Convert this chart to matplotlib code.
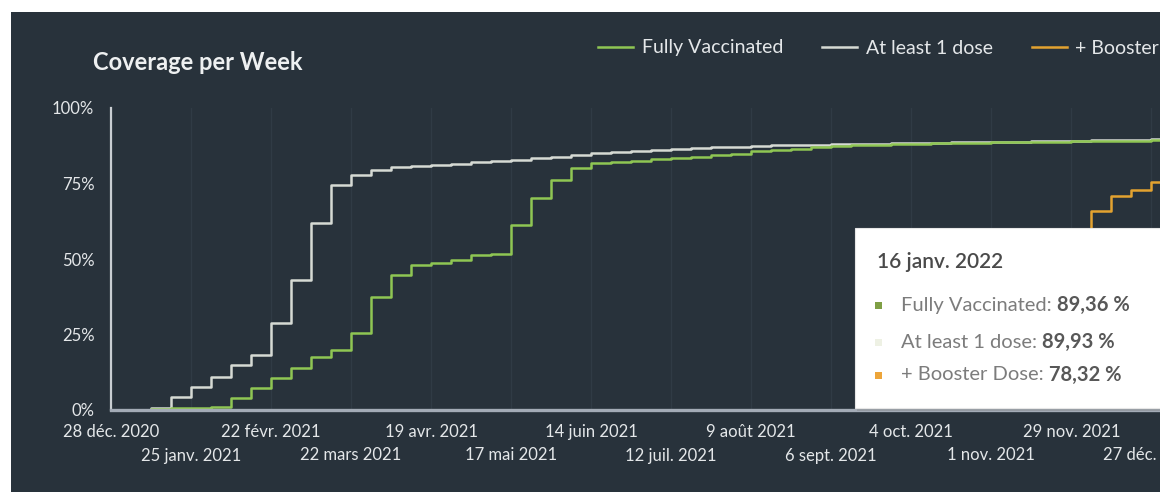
import matplotlib
matplotlib.use("Agg")
import matplotlib.pyplot as plt
from matplotlib.patches import Rectangle
from matplotlib.lines import Line2D
from matplotlib.text import Annotation
import numpy as np
import datetime as dt

# ---------------- data ----------------
start = dt.date(2020, 12, 28)
weeks = [start + dt.timedelta(days=7 * i) for i in range(54)]

at_least_one = [0, 0, 0.8, 4.3, 7.6, 10.9, 14.9, 18.2, 28.8, 43.0,
                62.0, 74.5, 77.8, 79.5, 80.3, 80.8, 81.2, 81.6, 82.0, 82.4,
                82.8, 83.3, 83.8, 84.4, 85.0, 85.4, 85.8, 86.1, 86.4, 86.7,
                87.0, 87.2, 87.4, 87.6, 87.7, 87.9, 88.0, 88.1, 88.2, 88.3,
                88.4, 88.5, 88.6, 88.7, 88.8, 88.9, 89.0, 89.1, 89.2, 89.3,
                89.4, 89.5, 89.6, 89.93]

fully = [0, 0, 0.3, 0.5, 0.6, 1.0, 4.0, 7.3, 10.6, 14.0,
         17.5, 19.8, 25.5, 37.4, 44.7, 47.9, 48.6, 49.7, 51.2, 51.7,
         61.3, 70.2, 76.2, 80.1, 81.8, 82.2, 82.6, 83.0, 83.4, 83.9,
         84.4, 84.9, 85.6, 86.1, 86.5, 87.0, 87.3, 87.6, 87.8, 88.0,
         88.2, 88.3, 88.4, 88.5, 88.6, 88.7, 88.8, 88.9, 89.0, 89.1,
         89.15, 89.2, 89.3, 89.36]

booster = [np.nan] * 38 + [2.5, 4.0, 6.0, 9.0, 13.0, 18.0, 24.0,
                           32.0, 41.0, 50.0, 58.0, 66.0, 71.0, 73.0, 75.5, 78.32]

tick_dates = [start + dt.timedelta(days=28 * i) for i in range(14)]
tick_labels = ["28 déc. 2020", "25 janv. 2021", "22 févr. 2021", "22 mars 2021",
               "19 avr. 2021", "17 mai 2021", "14 juin 2021", "12 juil. 2021",
               "9 août 2021", "6 sept. 2021", "4 oct. 2021", "1 nov. 2021",
               "29 nov. 2021", "27 déc. 2021"]
y_ticks = [0, 25, 50, 75, 100]
y_labels = ["0%", "25%", "50%", "75%", "100%"]

series_names = ["Fully Vaccinated", "At least 1 dose", "+ Booster Dose"]
series_colors = ["#8fc653", "#d6dad4", "#e3a230"]

tooltip_date = "16 janv. 2022"
tooltip_values = ["89,36 %", "89,93 %", "78,32 %"]
tooltip_colors = ["#7f9f45", "#eef1e4", "#eda53a"]

# ---------------- figure ----------------
W, H = 1160, 492
BG = "#28323b"
plt.rcParams['font.family'] = ['Lato', 'DejaVu Sans']

fig = plt.figure(figsize=(W / 100, H / 100), dpi=100, facecolor="white")

def fx(px):
    return px / W

def fy(py):
    return 1 - py / H

fig.patches.append(Rectangle((fx(11), 0), 1 - fx(11), fy(12), transform=fig.transFigure,
                             facecolor=BG, edgecolor="none", zorder=-10))

ax = fig.add_axes([fx(111), fy(410), 1 - fx(111), fy(108) - fy(410)])
ax.set_facecolor("none")

x_end = start + dt.timedelta(days=367)
ax.set_xlim(start, x_end)
ax.set_ylim(0, 100)

for d in tick_dates:
    ax.axvline(d, color="#303b45", lw=1.0, zorder=0)

ax.step(weeks, booster, where="post", color=series_colors[2], lw=1.8, zorder=2)
ax.step(weeks, at_least_one, where="post", color=series_colors[1], lw=1.8, zorder=3)
ax.step(weeks, fully, where="post", color=series_colors[0], lw=1.8, zorder=4)

for s in ["top", "right"]:
    ax.spines[s].set_visible(False)
ax.spines["left"].set_color("#c9ced2")
ax.spines["left"].set_linewidth(1.6)
ax.spines["bottom"].set_color("#a3abb6")
ax.spines["bottom"].set_linewidth(2.4)
ax.spines["bottom"].set_zorder(5)

ax.set_yticks(y_ticks)
ax.set_yticklabels(y_labels)
ax.set_xticks(tick_dates[0::2])
ax.set_xticklabels(tick_labels[0::2])
ax.set_xticks(tick_dates[1::2], minor=True)
ax.set_xticklabels(tick_labels[1::2], minor=True)
ax.tick_params(axis="both", which="both", length=0, colors="#e4e7e9", labelsize=12)
ax.tick_params(axis="y", pad=12)
ax.tick_params(axis="x", which="major", pad=10)
ax.tick_params(axis="x", which="minor", pad=27)

# title
fig.text(fx(93), fy(62), "Coverage per Week", color="#eef0f1", fontsize=17,
         fontweight="bold", va="center", ha="left")

# legend
handles = [Line2D([], [], color=c, lw=1.8) for c in series_colors]
leg = fig.legend(handles, series_names, loc="center left",
                 bbox_to_anchor=(fx(598), fy(48)), ncol=3, frameon=False,
                 fontsize=14, labelcolor="#e4e7e9", handlelength=1.8,
                 handletextpad=0.45, columnspacing=2.0, borderaxespad=0, borderpad=0)

# tooltip
bx0, by0, bx1, by1 = 855, 228, 1162, 408
fig.patches.append(Rectangle((fx(bx0 + 2), fy(by1 + 3)), fx(bx1 - bx0), fy(by0) - fy(by1),
                             transform=fig.transFigure, facecolor="#8a9096",
                             edgecolor="none", alpha=0.6, zorder=5))
fig.patches.append(Rectangle((fx(bx0), fy(by1)), fx(bx1 - bx0), fy(by0) - fy(by1),
                             transform=fig.transFigure, facecolor="white",
                             edgecolor="#e6e6e6", lw=0.8, zorder=6))
fig.text(fx(877), fy(262), tooltip_date, color="#4a4a4a", fontsize=15,
         fontweight="semibold", va="center", ha="left", zorder=7)
row_y = [305, 342, 375]
for name, val, col, yy in zip(series_names, tooltip_values, tooltip_colors, row_y):
    fig.patches.append(Rectangle((fx(875), fy(yy + 3.5)), fx(7), fy(yy - 3.5) - fy(yy + 3.5),
                                 transform=fig.transFigure, facecolor=col,
                                 edgecolor="none", zorder=7))
    t = fig.text(fx(901), fy(yy), name + ": ", color="#7c7c7c", fontsize=14.5,
                 va="center", ha="left", zorder=7)
    ann = Annotation(val, xy=(1, 0.5), xycoords=t, xytext=(0, 0),
                     textcoords="offset points", va="center", ha="left",
                     color="#585858", fontsize=14.5, fontweight="bold", zorder=7)
    fig.add_artist(ann)

fig.savefig("out.png", dpi=100, facecolor="white")
